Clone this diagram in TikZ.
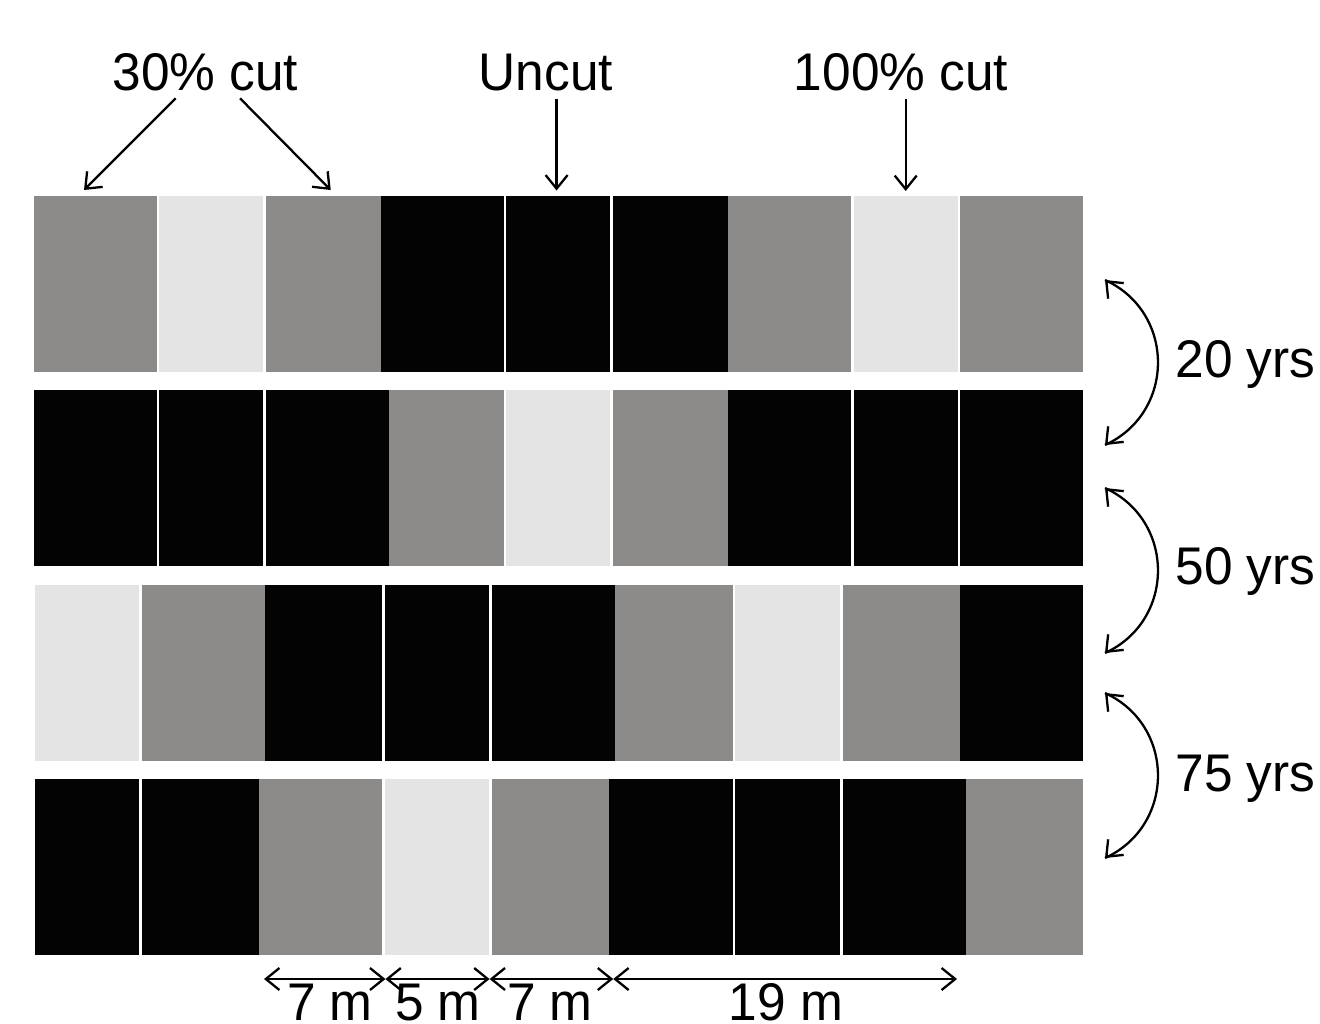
\documentclass[tikz,border=0pt]{standalone}
\usepackage{fontspec}
\setmainfont{Liberation Sans}
\usepackage{graphicx}
\usetikzlibrary{arrows.meta,calc}
\definecolor{cgray}{HTML}{8C8B89}
\definecolor{clight}{HTML}{E4E4E4}
\definecolor{cblack}{HTML}{030303}
\tikzset{
  lbl/.style={inner sep=0pt, font=\fontsize{26.5}{30}\selectfont},
  tipb/.tip={Straight Barb[length=6.8pt,width=11pt]},
  conn/.style={line width=1.15pt, -tipb},
  dconn/.style={line width=1.15pt, tipb-tipb},
  plainline/.style={line width=1.15pt},
  gapline/.style={white, line width=1.25pt}
}
\newcommand{\sqz}[1]{\scalebox{0.97}[1]{#1}}
\begin{document}
\begin{tikzpicture}[x=0.5pt,y=-0.5pt]
\useasboundingbox (0,0) rectangle (1320,1023);
\clip (0,0) rectangle (1320,1023);
\fill[white] (0,0) rectangle (1320,1023);

% Row 1
\fill[cgray]  (34,196) rectangle (158,372);
\fill[clight] (158,196) rectangle (264.5,372);
\fill[cgray]  (264.5,196) rectangle (381,372);
\fill[cblack] (381,196) rectangle (728,372);
\fill[cgray]  (728,196) rectangle (852.5,372);
\fill[clight] (852.5,196) rectangle (959,372);
\fill[cgray]  (959,196) rectangle (1083,372);
% Row 2
\fill[cblack] (34,390) rectangle (389,566);
\fill[cgray]  (389,390) rectangle (505,566);
\fill[clight] (505,390) rectangle (611.5,566);
\fill[cgray]  (611.5,390) rectangle (728,566);
\fill[cblack] (728,390) rectangle (1083,566);
\foreach \gx in {158,264.5,505,611.5,852.5,959}
  \draw[gapline] (\gx,195) -- (\gx,373) (\gx,389) -- (\gx,567);
% Row 3
\fill[clight] (34.5,585) rectangle (140.5,761);
\fill[cgray]  (140.5,585) rectangle (265,761);
\fill[cblack] (265,585) rectangle (615,761);
\fill[cgray]  (615,585) rectangle (734,761);
\fill[clight] (734,585) rectangle (841.5,761);
\fill[cgray]  (841.5,585) rectangle (960,761);
\fill[cblack] (960,585) rectangle (1083,761);
% Row 4
\fill[cblack] (34.5,779) rectangle (259,955);
\fill[cgray]  (259,779) rectangle (383.5,955);
\fill[clight] (383.5,779) rectangle (490.5,955);
\fill[cgray]  (490.5,779) rectangle (609,955);
\fill[cblack] (609,779) rectangle (966,955);
\fill[cgray]  (966,779) rectangle (1083,955);
\foreach \gx in {140.5,383.5,490.5,734,841.5}
  \draw[gapline] (\gx,584) -- (\gx,762) (\gx,778) -- (\gx,956);

% Top labels and arrows
\node[lbl, anchor=base] (l30) at (205.3,90.7) {\sqz{30\% cut}};
\node[lbl, anchor=base] (lun) at (546,90.7) {\sqz{Uncut}};
\node[lbl, anchor=base] (l100) at (901,90.7) {\sqz{100\% cut}};
\coordinate (s30a) at (175.7,98.3);
\coordinate (t30a) at (84,190);
\coordinate (s30b) at (240,98.3);
\coordinate (t30b) at (330.7,190);
\coordinate (sun) at (556.6,98.5);
\coordinate (tun) at (556.6,190.5);
\coordinate (s100) at (905.7,99);
\coordinate (t100) at (905.7,191);
\draw[conn] (s30a) -- (t30a);
\draw[conn] (s30b) -- (t30b);
\draw[conn] (sun) -- (tun);
\draw[conn] (s100) -- (t100);

% Right curved arrows
\coordinate (a1) at (1105,280);  \coordinate (b1) at (1105,445);
\coordinate (a2) at (1105,488);  \coordinate (b2) at (1105,653);
\coordinate (a3) at (1105,693);  \coordinate (b3) at (1105,858);
\foreach \i in {1,2,3}{
  \draw[plainline] (a\i) .. controls ($(a\i)+(70.6,32.3)$) and ($(b\i)+(70.6,-32.3)$) .. (b\i);
  \draw[conn] ($(a\i)+(3,3)$) -- (a\i);
  \draw[conn] ($(b\i)+(3,-3)$) -- (b\i);
}
\node[lbl, anchor=base west] (y20) at (1175,377.3) {\sqz{20 yrs}};
\node[lbl, anchor=base west] (y50) at (1175,584) {\sqz{50 yrs}};
\node[lbl, anchor=base west] (y75) at (1175,791) {\sqz{75 yrs}};

% Bottom dimensions
\coordinate (d0) at (264,979);
\coordinate (d1) at (385.4,979);
\coordinate (d2) at (489.6,979);
\coordinate (d3) at (613.2,979);
\coordinate (d4) at (957,979);
\draw[dconn] (d0) -- (d1);
\draw[dconn] (d1) -- (d2);
\draw[dconn] (d2) -- (d3);
\draw[dconn] (d3) -- (d4);
\node[lbl, anchor=base] (m1) at (330,1020) {\sqz{7 m}};
\node[lbl, anchor=base] (m2) at (438,1020) {\sqz{5 m}};
\node[lbl, anchor=base] (m3) at (550,1020) {\sqz{7 m}};
\node[lbl, anchor=base] (m4) at (786,1020) {\sqz{19 m}};
\end{tikzpicture}
\end{document}
